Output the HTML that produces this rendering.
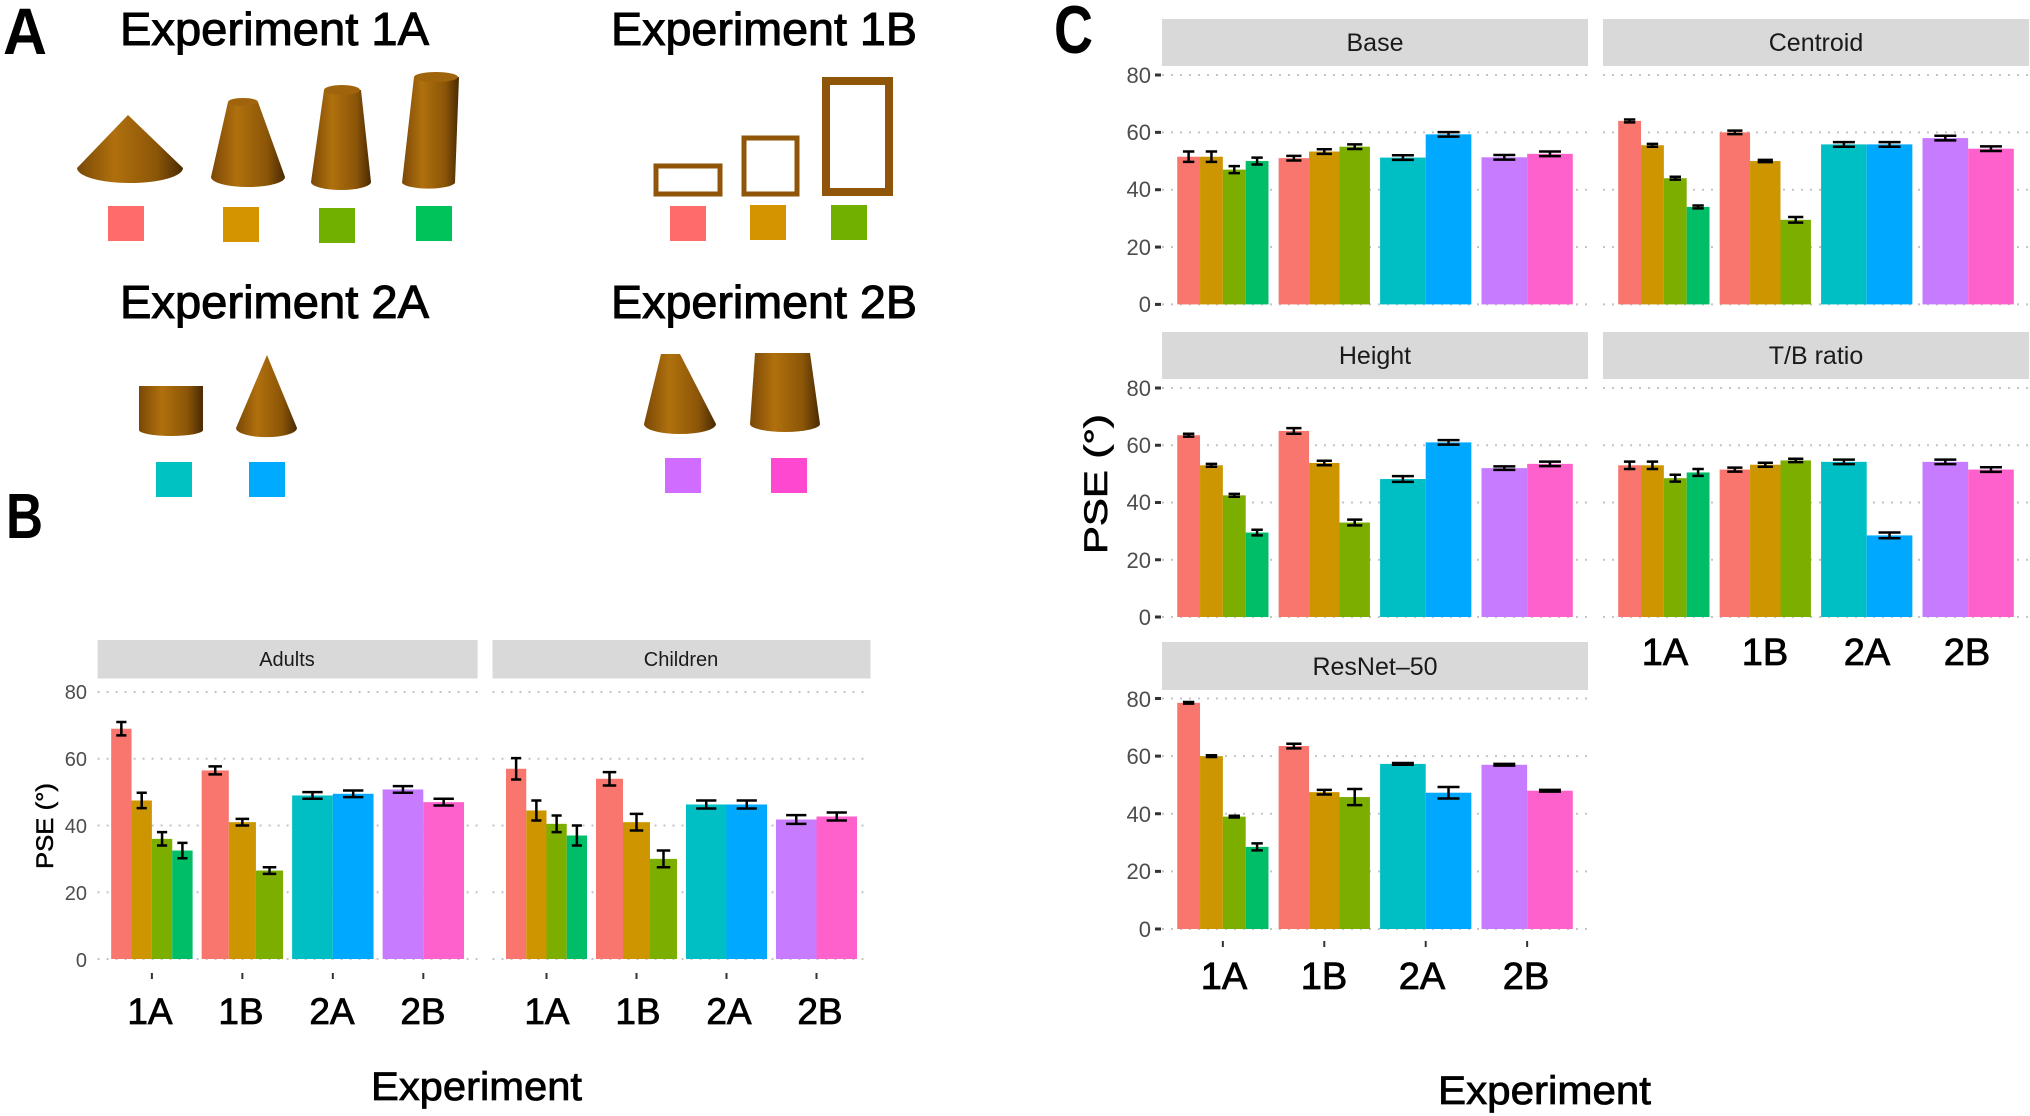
<!DOCTYPE html>
<html><head><meta charset="utf-8"><style>
html,body{margin:0;padding:0;background:#fff;}
svg{display:block;font-family:"Liberation Sans",sans-serif;}
.tk{font-size:22px;fill:#4d4d4d;text-anchor:end;}
.tkb{font-size:20px;fill:#4d4d4d;text-anchor:end;}
.st{font-size:25px;fill:#1a1a1a;text-anchor:middle;}
.stb{font-size:20px;fill:#1a1a1a;text-anchor:middle;}
.xl{font-size:38px;fill:#000;text-anchor:middle;stroke:#000;stroke-width:0.8;}
.ex{font-size:46px;fill:#000;stroke:#000;stroke-width:1;}
</style></head><body>
<svg id="s" width="2030" height="1116" viewBox="0 0 2030 1116" xmlns="http://www.w3.org/2000/svg">
<defs>
<linearGradient id="br" x1="0" x2="1" y1="0" y2="0">
<stop offset="0" stop-color="#7a4806"/><stop offset="0.35" stop-color="#b0700d"/><stop offset="0.75" stop-color="#8c5608"/><stop offset="1" stop-color="#4a2a03"/>
</linearGradient>
</defs>
<text x="3" y="54" font-size="66" font-weight="bold" textLength="44" lengthAdjust="spacingAndGlyphs">A</text>
<text x="6" y="538" font-size="64" font-weight="bold" textLength="37" lengthAdjust="spacingAndGlyphs">B</text>
<text x="1054" y="53" font-size="68" font-weight="bold" textLength="39" lengthAdjust="spacingAndGlyphs">C</text>
<text class="ex" x="120" y="45" textLength="309" lengthAdjust="spacingAndGlyphs">Experiment 1A</text>
<text class="ex" x="611" y="45" textLength="306" lengthAdjust="spacingAndGlyphs">Experiment 1B</text>
<text class="ex" x="120" y="318" textLength="309" lengthAdjust="spacingAndGlyphs">Experiment 2A</text>
<text class="ex" x="611" y="318" textLength="306" lengthAdjust="spacingAndGlyphs">Experiment 2B</text>
<g fill="url(#br)">
<path d="M128 115 L77 168 A53 15 0 0 0 183 168 Z"/>
<path d="M228 102 L258 102 L285 177 A37 10 0 0 1 211 177 Z"/><ellipse cx="243" cy="102" rx="15" ry="4" fill="#a0650c"/>
<path d="M324 90 L361 90 L371 182 A30 8 0 0 1 311 182 Z"/><ellipse cx="342" cy="90" rx="18" ry="5" fill="#a0650c"/>
<path d="M414 77 L459 77 L455 183 A27 7 0 0 1 402 183 Z"/><ellipse cx="436" cy="77" rx="22" ry="5" fill="#a0650c"/>
<path d="M139 386 L203 386 L203 430 A32 6 0 0 1 139 430 Z"/>
<path d="M267 355 L297 428 A30 9 0 0 1 236 428 Z"/>
<path d="M661 354 L680 354 L716 424 A36 10 0 0 1 644 424 Z"/>
<path d="M755 353 L810 353 L820 424 A35 8 0 0 1 750 424 Z"/>
</g>
<g fill="none" stroke="#8f5609">
<rect x="656" y="166" width="64" height="28" stroke-width="5"/>
<rect x="744" y="138" width="53" height="56" stroke-width="5"/>
<rect x="826" y="81" width="63" height="111" stroke-width="8"/>
</g>
<g>
<rect x="108" y="206" width="36" height="35" fill="#ff6b6b"/>
<rect x="223" y="207" width="36" height="35" fill="#d49400"/>
<rect x="319" y="208" width="36" height="35" fill="#72b000"/>
<rect x="416" y="206" width="36" height="35" fill="#00c45a"/>
<rect x="670" y="206" width="36" height="35" fill="#ff6b6b"/>
<rect x="750" y="205" width="36" height="35" fill="#d49400"/>
<rect x="831" y="205" width="36" height="35" fill="#72b000"/>
<rect x="156" y="462" width="36" height="35" fill="#00c2c2"/>
<rect x="249" y="462" width="36" height="35" fill="#00aaff"/>
<rect x="665" y="458" width="36" height="35" fill="#d06cff"/>
<rect x="771" y="458" width="36" height="35" fill="#ff48d0"/>
</g>
<g fill="#d9d9d9">
<rect x="97.6" y="640" width="380" height="38.5"/>
<rect x="492.5" y="640" width="378" height="38.5"/>
<rect x="1162" y="19" width="426" height="47"/>
<rect x="1603" y="19" width="426" height="47"/>
<rect x="1162" y="332" width="426" height="47"/>
<rect x="1603" y="332" width="426" height="47"/>
<rect x="1162" y="642" width="426" height="48"/>
</g>
<text class="stb" x="287" y="666">Adults</text>
<text class="stb" x="681" y="666">Children</text>
<text class="st" x="1375" y="51">Base</text>
<text class="st" x="1816" y="51">Centroid</text>
<text class="st" x="1375" y="364">Height</text>
<text class="st" x="1816" y="364">T/B ratio</text>
<text class="st" x="1375" y="675">ResNet–50</text>
<g class="tkb">
<text x="87" y="699">80</text><text x="87" y="766">60</text><text x="87" y="833">40</text><text x="87" y="900">20</text><text x="87" y="967">0</text>
</g>
<g class="tk">
<text x="1151" y="83">80</text><text x="1151" y="140">60</text><text x="1151" y="197">40</text><text x="1151" y="255">20</text><text x="1151" y="312">0</text>
<text x="1151" y="396">80</text><text x="1151" y="453">60</text><text x="1151" y="510">40</text><text x="1151" y="568">20</text><text x="1151" y="625">0</text>
<text x="1151" y="707">80</text><text x="1151" y="764">60</text><text x="1151" y="822">40</text><text x="1151" y="879">20</text><text x="1151" y="937">0</text>
</g>
<g class="xl" style="font-size:37px">
<text x="150" y="1024">1A</text><text x="241" y="1024">1B</text><text x="332" y="1024">2A</text><text x="423" y="1024">2B</text>
<text x="547" y="1024">1A</text><text x="638" y="1024">1B</text><text x="729" y="1024">2A</text><text x="820" y="1024">2B</text>
</g>
<g class="xl">
<text x="1665" y="665">1A</text><text x="1765" y="665">1B</text><text x="1867" y="665">2A</text><text x="1967" y="665">2B</text>
<text x="1224" y="989">1A</text><text x="1324" y="989">1B</text><text x="1422" y="989">2A</text><text x="1526" y="989">2B</text>
</g>
<text x="371" y="1100" font-size="40" stroke="#000" stroke-width="0.8" textLength="211" lengthAdjust="spacingAndGlyphs">Experiment</text>
<text x="1438" y="1104" font-size="40" stroke="#000" stroke-width="0.8" textLength="213" lengthAdjust="spacingAndGlyphs">Experiment</text>
<text transform="translate(53,826) rotate(-90)" font-size="24" stroke="#000" stroke-width="0.5" text-anchor="middle" textLength="86" lengthAdjust="spacingAndGlyphs">PSE (°)</text>
<text transform="translate(1107,484) rotate(-90)" font-size="32" stroke="#000" stroke-width="0.7" text-anchor="middle" textLength="140" lengthAdjust="spacingAndGlyphs">PSE (°)</text>
<g id="plots"></g>
</svg>
<script>
var C=["#F8766D","#CD9600","#7CAE00","#00BE67","#00BFC4","#00A9FF","#C77CFF","#FF61CC"];
var CI=[[0,1,2,3],[0,1,2],[4,5],[6,7]];
var g=document.getElementById("plots"),h="";
function panel(x0,x1,y80,y0,d,leftTicks,xTicks,tickY,lw){
  var u=(x1-x0)/4.2;function Y(v){return y0-(y0-y80)*v/80;}
  for(var v=0;v<=80;v+=20){h+='<line x1="'+x0+'" x2="'+x1+'" y1="'+Y(v)+'" y2="'+Y(v)+'" stroke="#c4c4c4" stroke-width="2" stroke-dasharray="2,7"/>';
    if(leftTicks)h+='<line x1="'+(x0-7)+'" x2="'+(x0-1)+'" y1="'+Y(v)+'" y2="'+Y(v)+'" stroke="#333" stroke-width="3"/>';}
  for(var k=0;k<4;k++){var c=x0+(0.6+k)*u,n=d[k].length,w=0.9*u/n,s=c-0.45*u;
    if(xTicks)h+='<line x1="'+c+'" x2="'+c+'" y1="'+tickY+'" y2="'+(tickY+6)+'" stroke="#333" stroke-width="2"/>';
    for(var i=0;i<n;i++){var v=d[k][i][0],e=d[k][i][1],bx=s+i*w,cx=bx+w/2,cw=Math.min(w*0.5,22)/2;
      h+='<rect x="'+bx+'" y="'+Y(v)+'" width="'+w+'" height="'+(y0-Y(v))+'" fill="'+C[CI[k][i]]+'"/>';
      var t=Y(v+e),b=Y(v-e);
      h+='<path d="M'+(cx-cw)+' '+t+'H'+(cx+cw)+'M'+cx+' '+t+'V'+b+'M'+(cx-cw)+' '+b+'H'+(cx+cw)+'" stroke="#000" stroke-width="'+lw+'" fill="none"/>';}}
}
panel(97.6,477.6,692,959,[[[69,2],[47.5,2.3],[36,2],[32.5,2.3]],[[56.5,1.2],[41,1],[26.5,1]],[[49,1],[49.5,1]],[[50.8,1],[47,1]]],false,true,973,2.5);
panel(492.5,870.5,692,959,[[[57,3.2],[44.5,3],[40.5,2.5],[37,3]],[[54,2],[41,2.5],[30,2.5]],[[46.3,1.2],[46.3,1.2]],[[41.8,1.3],[42.7,1.2]]],false,true,973,2.5);
panel(1162,1588,75,304.4,[[[51.5,1.8],[51.5,1.8],[47,1.2],[50,1.2]],[[51,0.8],[53.3,0.8],[55,0.8]],[[51.2,0.8],[59.3,0.8]],[[51.3,0.8],[52.5,0.8]]],true,false,0,2.5);
panel(1603,2029,75,304.4,[[[64,0.5],[55.5,0.5],[44,0.5],[34,0.5]],[[60,0.6],[50,0.4],[29.5,1]],[[55.8,0.8],[55.8,0.8]],[[58,0.8],[54.3,0.8]]],false,false,0,2.5);
panel(1162,1588,388,617,[[[63.5,0.5],[53,0.5],[42.5,0.5],[29.5,1]],[[65,1],[53.8,0.8],[33,1]],[[48.2,1],[61,0.8]],[[52,0.6],[53.5,0.8]]],true,false,0,2.5);
panel(1603,2029,388,617,[[[53,1.3],[53,1.3],[48.5,1.2],[50.5,1.2]],[[51.5,0.7],[53.2,0.7],[54.7,0.6]],[[54.2,0.8],[28.5,1]],[[54.2,0.8],[51.5,0.8]]],false,false,0,2.5);
panel(1162,1588,698.5,929,[[[78.5,0.3],[60,0.3],[39,0.3],[28.5,1.2]],[[63.5,0.8],[47.5,0.8],[45.8,2.8]],[[57.3,0.3],[47.3,2]],[[57,0.3],[48,0.3]]],true,true,941,2.5);
g.innerHTML=h;
</script>
</body></html>
